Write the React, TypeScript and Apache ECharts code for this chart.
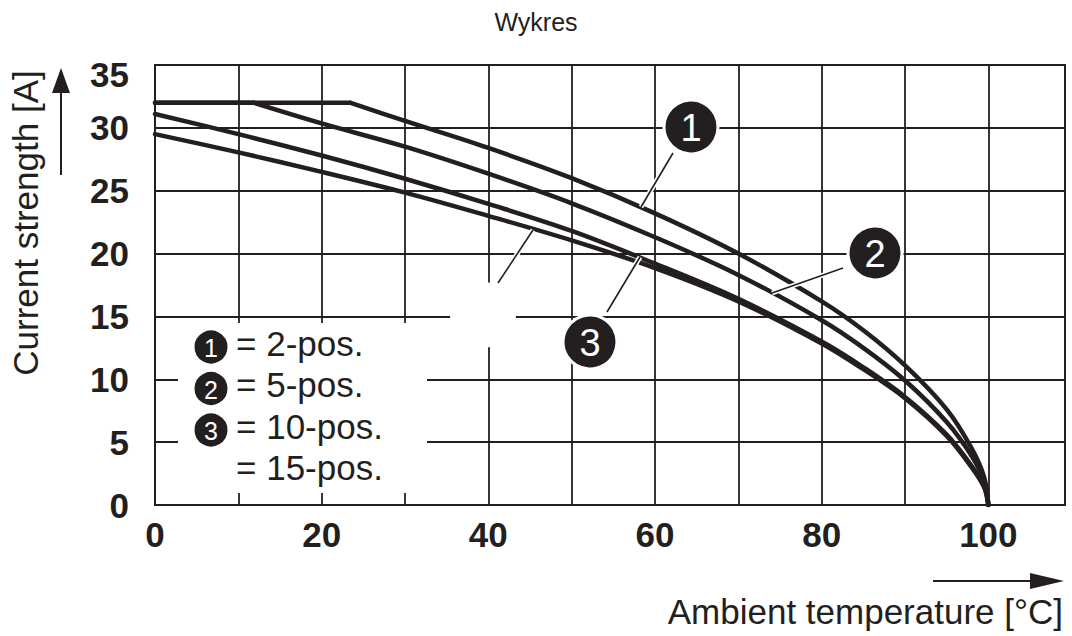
import React, { useEffect, useRef } from "react";
import * as echarts from "echarts";

// Derating curves: [ambient temperature °C, current A]
const curve2pos: [number, number][] = [
  [0, 32], [23.4, 32], [30, 30.55], [40, 28.4], [50, 26.0], [60, 23.2], [70, 20.0],
  [80, 16.2], [85, 13.9], [90, 11.1], [95, 7.6], [98, 4.5], [99.5, 2.2], [100, 0],
];
const curve5pos: [number, number][] = [
  [0, 32], [11.8, 32], [20, 30.35], [30, 28.5], [40, 26.35], [50, 24.0], [60, 21.3],
  [70, 18.3], [80, 14.7], [85, 12.5], [90, 9.9], [95, 6.6], [98, 3.9], [99.5, 1.9], [100, 0],
];
const curve10pos: [number, number][] = [
  [0, 31.1], [10, 29.5], [20, 27.8], [30, 25.95], [40, 23.95], [50, 21.8], [60, 19.2],
  [70, 16.4], [80, 13.0], [85, 10.95], [90, 8.6], [95, 5.6], [98, 3.1], [99.5, 1.5], [100, 0],
];
const curve15pos: [number, number][] = [
  [0, 29.5], [10, 28.05], [20, 26.5], [30, 24.85], [40, 23.0], [50, 21.05], [60, 18.85],
  [70, 16.2], [80, 12.85], [85, 10.8], [90, 8.5], [95, 5.5], [98, 3.0], [99.5, 1.4], [100, 0],
];
const seriesNames = ["2-pos.", "5-pos.", "10-pos.", "15-pos."];
const legendLabels = ["= 2-pos.", "= 5-pos.", "= 10-pos.", "= 15-pos."];
const legendMarks = ["1", "2", "3", ""];
const xTickLabelStep = 20;

const title = "Wykres";
const xName = "Ambient temperature [°C]";
const yName = "Current strength [A]";

export default function App() {
  const ref = useRef<HTMLDivElement>(null);
  useEffect(() => {
    const chart = echarts.init(ref.current!, null, { renderer: "svg" });
    const ink = "#231f20";
    const font = "'Liberation Sans', Arial, Helvetica, sans-serif";
    const curves = [curve2pos, curve5pos, curve10pos, curve15pos];

    const lineStyle = { color: ink, width: 4.5, cap: "round", join: "round" };
    const series: any[] = [];
    curves.forEach((data, i) => {
      const hasFlat = data[0][1] === data[1][1];
      if (hasFlat) {
        // constant-current plateau drawn straight, derating part smoothed
        series.push({ name: seriesNames[i], type: "line", data: data.slice(0, 2), smooth: false, symbol: "none", z: 5, lineStyle });
        series.push({ name: seriesNames[i], type: "line", data: data.slice(1), smooth: 0.35, symbol: "none", z: 5, lineStyle });
      } else {
        series.push({ name: seriesNames[i], type: "line", data, smooth: 0.35, symbol: "none", z: 5, lineStyle });
      }
    });

    const callout = (cx: number, cy: number, label: string, r: number, fs: number) => [
      { type: "circle", z: 12, shape: { cx, cy, r }, style: { fill: ink, stroke: "#fff", lineWidth: 3 } },
      {
        type: "text", z: 13, x: cx, y: cy + 1,
        style: { text: label, fill: "#fff", font: `${fs}px ${font}`, textAlign: "center", textVerticalAlign: "middle" },
      },
    ];
    const leader = (x1: number, y1: number, x2: number, y2: number) => [
      { type: "line", z: 10, shape: { x1, y1, x2, y2 }, style: { stroke: "#fff", lineWidth: 5 } },
      { type: "line", z: 11, shape: { x1, y1, x2, y2 }, style: { stroke: ink, lineWidth: 1.6 } },
    ];

    const legendRows = [347, 388.5, 430, 471];
    const legendGraphics: any[] = [];
    legendRows.forEach((cy, i) => {
      if (legendMarks[i]) legendGraphics.push(...callout(211, cy, legendMarks[i], 18, 25));
      legendGraphics.push({
        type: "text", z: 13, x: 236, y: cy - 4,
        style: { text: legendLabels[i], fill: ink, font: `35px ${font}`, textAlign: "left", textVerticalAlign: "middle" },
      });
    });

    const tickFont = { fontFamily: font, fontWeight: "bold", fontSize: 35, color: ink };

    chart.setOption({
      animation: false,
      title: {
        text: title, left: "center", top: 4,
        textStyle: { fontFamily: font, fontSize: 25, fontWeight: "normal", color: ink },
      },
      grid: {
        left: 155, top: 65, width: 910, height: 440,
        show: true, borderColor: ink, borderWidth: 2, backgroundColor: "transparent",
      },
      xAxis: {
        type: "value", min: 0, max: 109.2, interval: 10,
        axisLine: { show: true, lineStyle: { color: ink, width: 2 } },
        axisTick: { show: false },
        splitLine: { show: true, lineStyle: { color: ink, width: 1.8 } },
        axisLabel: {
          formatter: (v: number) => (Math.abs(v % xTickLabelStep) < 1e-6 && v <= 100 ? String(v) : ""),
          ...tickFont, margin: 12,
        },
      },
      yAxis: {
        type: "value", min: 0, max: 35, interval: 5,
        axisLine: { show: true, lineStyle: { color: ink, width: 2 } },
        axisTick: { show: false },
        splitLine: { show: true, lineStyle: { color: ink, width: 1.8 } },
        axisLabel: {
          ...tickFont, margin: 26,
          formatter: (v: number) => (v === 35 ? `{top|${v}}` : String(v)),
          rich: { top: { ...tickFont, padding: [18, 0, 0, 0] } },
        },
      },
      series,
      graphic: [
        // white areas cut out of the grid
        { type: "rect", z: 1, shape: { x: 178, y: 323, width: 249, height: 170 }, style: { fill: "#fff" } },
        { type: "circle", z: 1, shape: { cx: 483, cy: 315, r: 33 }, style: { fill: "#fff" } },
        ...leader(673, 153, 641, 207),
        ...leader(843, 268, 772, 293),
        ...leader(607, 312, 640, 257),
        ...leader(498, 283, 533, 230),
        ...callout(691, 127, "1", 27, 38),
        ...callout(875, 253, "2", 27, 38),
        ...callout(590, 342, "3", 27, 38),
        ...legendGraphics,
        // axis names with arrows
        {
          type: "text", z: 13, x: 25, y: 223, rotation: Math.PI / 2,
          style: { text: yName, fill: ink, font: `35px ${font}`, textAlign: "center", textVerticalAlign: "middle" },
        },
        { type: "line", z: 13, shape: { x1: 61, y1: 175, x2: 61, y2: 90 }, style: { stroke: ink, lineWidth: 2 } },
        { type: "polygon", z: 13, shape: { points: [[52, 93], [70, 93], [61, 68]] }, style: { fill: ink } },
        {
          type: "text", z: 13, x: 1063, y: 611,
          style: { text: xName, fill: ink, font: `35px ${font}`, textAlign: "right", textVerticalAlign: "middle" },
        },
        { type: "line", z: 13, shape: { x1: 933, y1: 581, x2: 1035, y2: 581 }, style: { stroke: ink, lineWidth: 2 } },
        { type: "polygon", z: 13, shape: { points: [[1030, 573], [1030, 589], [1064, 581]] }, style: { fill: ink } },
      ],
    });
    return () => chart.dispose();
  }, []);
  return <div ref={ref} style={{ position: "fixed", left: 0, top: 0, width: 1072, height: 636, background: "#fff" }} />;
}
